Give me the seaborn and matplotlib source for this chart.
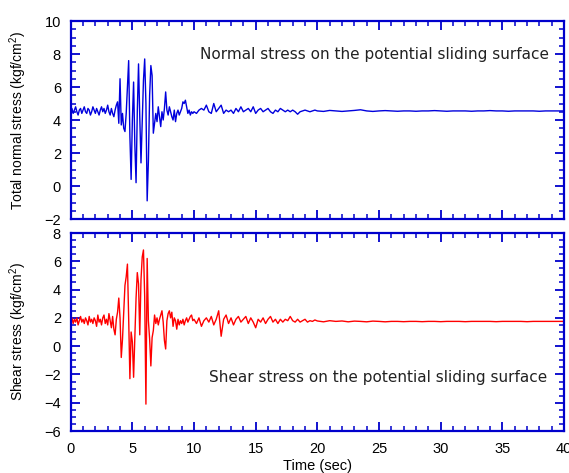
import numpy as np
import pandas as pd
import matplotlib
matplotlib.use("Agg")
import matplotlib.pyplot as plt
from matplotlib.ticker import MultipleLocator
import seaborn as sns

# ---------------- data ----------------
# time grids: 0-9.9 s every 0.1 s, 10-19.8 s every 0.2 s, 20-40 s every 0.5 s
time_a = np.round(np.arange(0.0, 10.0, 0.1), 2)
time_b = np.round(np.arange(10.0, 20.0, 0.2), 2)
time_c = np.round(np.arange(20.0, 40.01, 0.5), 2)

normal_a = [
    4.5, 4.7, 4.4, 4.6, 4.8, 4.5, 4.3, 4.6, 4.7, 4.4,
    4.6, 4.8, 4.5, 4.4, 4.7, 4.6, 4.3, 4.5, 4.8, 4.6,
    4.4, 4.7, 4.5, 4.3, 4.6, 4.8, 4.5, 4.7, 4.4, 4.6,
    4.9, 4.5, 4.3, 4.7, 4.4, 4.2, 4.6, 4.9, 5.1, 3.8,
    6.5, 3.7, 4.4, 3.5, 3.3, 4.4, 6.0, 7.6, 3.0, 0.4,
    4.0, 6.3, 2.5, 0.2, 4.5, 7.4, 4.2, 1.4, 4.0, 6.4,
    7.7, 5.0, -0.9, 1.5, 5.5, 7.3, 6.7, 3.2, 3.8, 4.4,
    3.9, 4.8, 4.2, 3.6, 4.5, 4.0, 4.7, 5.7, 4.6, 4.3,
    4.8, 4.5, 4.2, 4.0, 4.6, 3.9, 4.4, 4.6, 4.3, 4.5,
    4.7, 5.1, 5.0, 5.2, 4.8, 4.4, 4.6, 4.3, 4.5, 4.4,
]
normal_b = [
    4.5, 4.4, 4.6, 4.7, 4.6, 4.9, 4.5, 4.4, 5.0, 4.5,
    4.7, 4.9, 4.4, 4.6, 4.5, 4.6, 4.4, 4.7, 4.5, 4.8,
    4.5, 4.6, 4.7, 4.5, 4.8, 4.4, 4.6, 4.7, 4.5, 4.6,
    4.7, 4.5, 4.4, 4.6, 4.5, 4.7, 4.6, 4.5, 4.6, 4.5,
    4.6, 4.5, 4.35, 4.5, 4.55, 4.6, 4.55, 4.5, 4.55, 4.6,
]
normal_c = [
    4.55, 4.52, 4.58, 4.55, 4.52, 4.55, 4.58, 4.62, 4.55, 4.52,
    4.55, 4.57, 4.55, 4.53, 4.55, 4.55, 4.53, 4.55, 4.55, 4.57,
    4.55, 4.53, 4.55, 4.55, 4.55, 4.53, 4.55, 4.55, 4.57, 4.55,
    4.55, 4.53, 4.55, 4.55, 4.55, 4.55, 4.53, 4.55, 4.55, 4.55,
    4.55,
]

shear_a = [
    1.8, 2.0, 1.6, 1.9, 1.7, 2.0, 1.5, 1.8, 2.1, 1.7,
    1.9, 1.6, 2.0, 1.8, 1.5, 2.1, 1.7, 1.9, 1.6, 2.0,
    1.8, 1.4, 2.2, 1.7, 1.9, 1.5, 2.0, 2.2, 1.6, 1.9,
    1.5, 2.3, 1.8, 1.3, 2.1, 1.2, 0.8, 1.9, 2.4, 3.4,
    2.0, -0.8, 0.5, 2.4, 4.3, 4.9, 5.8, 2.0, -2.3, 1.0,
    0.3, -2.2, 0.5, 3.4, 5.2, 4.4, 0.8, 4.7, 6.3, 6.8,
    3.5, -4.1, 6.2, 1.8, 0.5, -1.4, 0.6, 1.1, 2.2, 1.6,
    2.0, 1.5, 1.9, 2.2, 2.5, 1.7, 0.4, -0.2, 1.8, 2.3,
    2.5, 2.0, 2.4, 1.4, 2.0, 1.8, 1.2, 1.9, 1.5, 1.8,
    1.6, 1.9, 1.5, 1.8, 2.0, 1.7, 1.9, 2.1, 2.2, 1.8,
]
shear_b = [
    1.9, 1.6, 2.0, 1.4, 1.8, 2.0, 1.7, 2.1, 1.5, 1.9,
    2.5, 0.7, 1.9, 2.2, 1.6, 2.0, 1.5, 1.9, 2.1, 1.7,
    1.9, 2.1, 1.6, 2.0, 1.7, 1.3, 1.9, 1.7, 2.0, 1.6,
    1.9, 2.1, 1.7, 1.9, 1.6, 1.9, 1.7, 1.9, 1.8, 2.1,
    1.8, 1.7, 1.9, 1.7, 1.8, 1.9, 1.7, 1.8, 1.75, 1.85,
]
shear_c = [
    1.78, 1.72, 1.8, 1.75, 1.78, 1.72, 1.77, 1.75, 1.72, 1.77,
    1.75, 1.72, 1.75, 1.75, 1.73, 1.75, 1.75, 1.73, 1.75, 1.75,
    1.73, 1.75, 1.75, 1.75, 1.73, 1.75, 1.75, 1.75, 1.75, 1.73,
    1.75, 1.75, 1.75, 1.75, 1.73, 1.75, 1.75, 1.75, 1.75, 1.75,
    1.75,
]

x_ticks = [0, 5, 10, 15, 20, 25, 30, 35, 40]
top_yticks = [-2, 0, 2, 4, 6, 8, 10]
bot_yticks = [-6, -4, -2, 0, 2, 4, 6, 8]

time = np.concatenate([time_a, time_b, time_c])
df_normal = pd.DataFrame({"time": time, "stress": normal_a + normal_b + normal_c})
df_shear = pd.DataFrame({"time": time, "stress": shear_a + shear_b + shear_c})

# ---------------- style ----------------
sns.set_theme(style="white")
plt.rcParams["font.family"] = ["Liberation Sans", "DejaVu Sans"]
plt.rcParams["mathtext.fontset"] = "custom"
plt.rcParams["mathtext.rm"] = "Liberation Sans"

spine_col = "#0000CC"

fig = plt.figure(figsize=(5.69, 4.73), dpi=100)
W, H = 569, 473
left, right = 70.7, 564.0
ax1 = fig.add_axes([left / W, 1 - 219 / H, (right - left) / W, (219 - 21) / H])
ax2 = fig.add_axes([left / W, 1 - 431 / H, (right - left) / W, (431 - 233) / H])

sns.lineplot(data=df_normal, x="time", y="stress", ax=ax1, color="#0000DD",
             linewidth=1.0, estimator=None, sort=False)
sns.lineplot(data=df_shear, x="time", y="stress", ax=ax2, color="#FF0000",
             linewidth=1.0, estimator=None, sort=False)

for ax, yt in ((ax1, top_yticks), (ax2, bot_yticks)):
    ax.set_xlim(0, 40)
    ax.set_ylim(yt[0], yt[-1])
    ax.set_xticks(x_ticks)
    ax.set_yticks(yt)
    ax.xaxis.set_minor_locator(MultipleLocator(1))
    ax.yaxis.set_minor_locator(MultipleLocator(0.5))
    for s in ax.spines.values():
        s.set_color(spine_col)
        s.set_linewidth(1.6)
        s.set_visible(True)
    ax.tick_params(which="both", direction="in", top=True, right=True,
                   bottom=True, left=True, color=spine_col, labelcolor="black",
                   labelsize=10.5)
    ax.tick_params(which="major", length=6.5, width=1.3)
    ax.tick_params(which="minor", length=3.8, width=1.1)
    ax.tick_params(axis="y", which="major", pad=7)
    ax.tick_params(axis="x", which="major", pad=8)
    ax.set_xlabel("")

ax1.tick_params(labelbottom=False)
ax1.set_ylabel("Total normal stress (kgf/cm$^2$)", fontsize=10, color="black")
ax2.set_ylabel("Shear stress (kgf/cm$^2$)", fontsize=10, color="black")
ax1.yaxis.set_label_coords(-0.085, 0.5)
ax2.yaxis.set_label_coords(-0.085, 0.5)
ax2.set_xlabel("Time (sec)", fontsize=10.5, color="black")
ax2.xaxis.set_label_coords(0.5, -0.142)

ann_font = ["DejaVu Sans"]
ax1.text(10.48, 7.94, "Normal stress on the potential sliding surface",
         ha="left", va="center", fontsize=11, color="#222222", family=ann_font)
ax2.text(11.2, -2.25, "Shear stress on the potential sliding surface",
         ha="left", va="center", fontsize=11, color="#222222", family=ann_font)

fig.savefig("out.png", dpi=100)
